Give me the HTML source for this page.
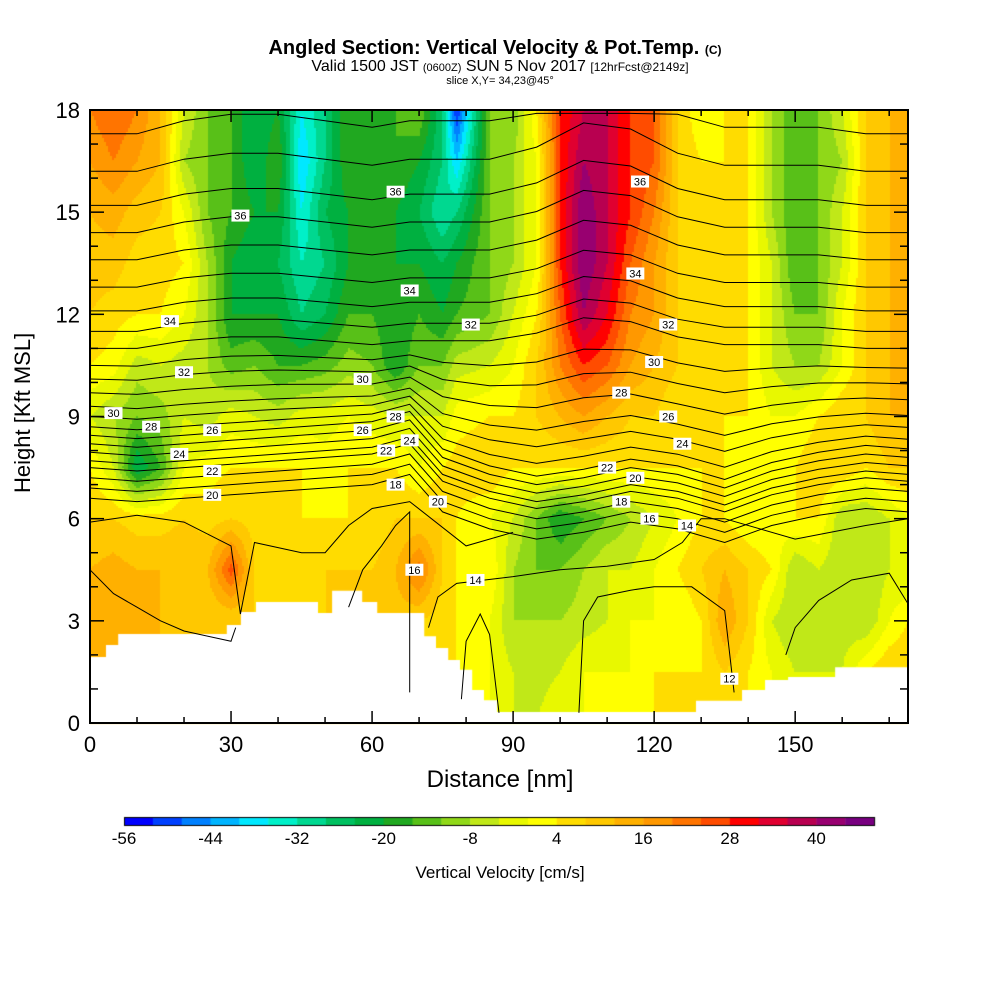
<!DOCTYPE html>
<html><head><meta charset="utf-8"><style>
body{margin:0;background:#fff;width:1000px;height:1000px;overflow:hidden;font-family:"Liberation Sans",sans-serif}
#wrap{position:relative;width:1000px;height:1000px}
.t{position:absolute;white-space:nowrap;color:#000}
canvas{position:absolute;left:0;top:0}
</style></head><body><div id="wrap">
<canvas id="c" width="1000" height="1000"></canvas>
<svg id="s" width="1000" height="1000" style="position:absolute;left:0;top:0"><defs><clipPath id="pc"><rect x="90" y="110" width="818" height="613"/></clipPath></defs></svg>
<div class="t" style="left:0;width:990px;text-align:center;top:37px;font-size:20px;font-weight:bold">Angled Section: Vertical Velocity &amp; Pot.Temp. <span style="font-size:12px">(C)</span></div>
<div class="t" style="left:0;width:1000px;text-align:center;top:58px;font-size:16px">Valid 1500 JST <span style="font-size:11px">(0600Z)</span> SUN 5 Nov 2017 <span style="font-size:12px">[12hrFcst@2149z]</span></div>
<div class="t" style="left:0;width:1000px;text-align:center;top:75px;font-size:11px">slice X,Y= 34,23@45°</div>
<div class="t" style="left:-52px;top:405px;font-size:22px;transform:rotate(-90deg);width:150px;text-align:center">Height [Kft MSL]</div>
<div class="t" style="left:0;width:1000px;text-align:center;top:766px;font-size:24px">Distance [nm]</div>
<div class="t" style="left:0;width:1000px;text-align:center;top:863px;font-size:17px">Vertical Velocity [cm/s]</div>
</div>
<script>
// ---- data ----
const xs=[0,5,10,15,20,25,30,35,40,45,50,55,60,65,70,75,78,85,90,95,100,105,110,115,120,125,130,135,140,145,150,155,160,165,170,174];
const ys=[18,16.5,15,13.5,12,10.5,9,7.5,6,4.5,3,1.5,0];
const w=[
[20,16,12,10,8,4,-4,4,8,12,12,12,12],
[24,20,14,10,6,2,-8,-4,8,14,12,12,12],
[20,16,10,6,4,-6,-12,-24,6,12,12,12,12],
[12,12,8,6,4,-4,-10,-16,6,12,12,12,12],
[-4,-8,0,4,0,-6,-4,0,8,12,8,8,8],
[-12,-12,-12,-8,-8,-8,-6,2,6,12,8,8,8],
[-16,-16,-16,-20,-20,-14,-2,4,8,26,8,8,8],
[-24,-24,-20,-24,-20,-12,-4,4,6,8,8,8,8],
[-20,-16,-20,-24,-20,-16,-6,4,6,6,8,8,8],
[-36,-40,-36,-32,-28,-16,-2,4,4,4,8,8,8],
[-28,-28,-24,-28,-24,-14,-2,2,4,8,8,8,8],
[-16,-16,-20,-20,-16,-10,0,4,4,8,10,10,10],
[-20,-20,-20,-20,-16,-12,-2,4,4,8,10,10,10],
[-16,-16,-20,-20,-20,-20,-4,4,8,12,10,10,10],
[-12,-20,-24,-20,-16,-12,-4,0,8,22,8,8,8],
[-28,-28,-32,-24,-20,-12,-4,4,8,8,6,6,6],
[-52,-40,-28,-20,-16,-6,2,6,4,4,4,4,4],
[-12,-12,-12,-12,-12,-4,4,8,0,4,0,0,0],
[-12,-8,-8,-8,-4,0,4,4,-4,-8,-8,-4,-4],
[4,0,0,0,4,8,8,4,-12,-12,-8,-6,-4],
[28,28,28,28,24,20,12,4,-20,-12,-8,-4,0],
[36,40,44,44,40,28,16,4,-16,-8,-6,0,0],
[36,36,36,36,32,24,12,4,-12,-4,-4,0,0],
[28,28,28,24,20,16,8,4,-8,-4,0,0,0],
[24,24,20,16,16,12,8,4,-4,0,0,4,4],
[8,8,8,8,8,8,4,4,0,4,0,4,4],
[0,4,4,4,8,4,4,4,4,8,4,4,4],
[4,4,4,4,4,4,4,4,4,12,16,8,8],
[4,4,4,4,4,4,4,0,0,8,8,4,4],
[-8,-8,-8,-4,-4,-4,0,0,0,4,-4,0,0],
[-16,-16,-16,-16,-12,-8,0,4,4,-8,-8,-4,-4],
[-12,-12,-12,-12,-12,-8,4,8,4,-4,-8,-4,-4],
[-4,-8,-4,-4,0,0,8,8,-8,-8,-6,-4,-4],
[8,8,8,8,8,8,8,4,-8,-8,-8,4,4],
[12,12,12,12,12,12,12,8,-4,-4,0,8,8],
[12,12,12,12,12,12,12,8,0,-4,4,8,8]];
const terrX=[0,3.4,3.4,6,6,29.1,29.1,32.1,32.1,35.3,35.3,48.5,48.5,51.5,51.5,57.9,57.9,61.1,61.1,71.1,71.1,73.6,73.6,76.2,76.2,78.7,78.7,81.3,81.3,83.8,83.8,86.6,86.6,128.9,128.9,138.7,138.7,143.6,143.6,148.5,148.5,158.5,158.5,174];
const terrH=[1.94,1.94,2.29,2.29,2.61,2.61,2.88,2.88,3.26,3.26,3.55,3.55,3.23,3.23,3.88,3.88,3.55,3.55,3.23,3.23,2.55,2.55,2.2,2.2,1.85,1.85,1.56,1.56,0.97,0.97,0.67,0.67,0.32,0.32,0.65,0.65,0.97,0.97,1.26,1.26,1.35,1.35,1.64,1.64];
const cbLevels=[-56,-52,-48,-44,-40,-36,-32,-28,-24,-20,-16,-12,-8,-4,0,4,8,12,16,20,24,28,32,36,40,44];
const cbColors=["#0000ff","#0040ff","#0080ff","#00b4ff","#00e8ff","#00f0c8","#00d890","#00c060","#00b040","#20a820","#58c018","#90d818","#c0e818","#e8f800","#ffff00","#ffdc00","#ffc800","#ffb000","#ff9800","#ff7400","#ff4c00","#ff0000","#e00030","#b80050","#980070","#780080"];
const cbTicks=[-56,-44,-32,-20,-8,4,16,28,40];
const xTicks=[0,30,60,90,120,150];
const yTicks=[0,3,6,9,12,15,18];
const lineX=[0,10,20,30,40,50,60,68,75,85,95,105,115,125,135,145,155,165,174];
const lineBase=[6.6,6.9,7.2,7.5,7.7,7.95,8.2,8.45,8.7,9.0,9.3,9.7,10.1,10.5,11.0,11.5,12.1,12.8,13.6,14.4,15.2,16.2,17.3];
const shapeLow=[0,-0.1,0,0.1,0.2,0.3,0.4,0.7,-0.4,-0.9,-1.2,-1.0,-0.7,-0.9,-1.3,-0.8,-0.5,-0.3,-0.4];
const shapeHigh=[0,0,0.2,0.3,0.3,0.2,0.1,0.2,0.2,0.2,0.4,0.8,0.7,0.3,0.1,0.1,0.1,0.0,0.0];
const lowLines=[
 {x:[0,10,20,30,32,35,45,50,55,60,68,80,90],h:[5.9,6.1,5.9,5.2,3.2,5.3,5.0,5.0,5.8,6.3,6.5,5.2,5.6]},
 {x:[0,5,10,15,20,30,31],h:[4.5,3.8,3.4,3.0,2.7,2.4,2.8]},
 {x:[55,58,62,65,68,68,68],h:[3.4,4.5,5.2,5.8,6.2,4.5,0.9]},
 {x:[72,74,78,90,100,110,120,126,130,135,150,165,174],h:[2.8,3.7,4.1,4.3,4.5,4.6,4.8,5.3,6.0,6.0,5.4,5.8,6.0]},
 {x:[79,80,83,85,87],h:[0.7,2.4,3.2,2.6,0.3]},
 {x:[104,105,108,115,120,128,135,137],h:[0.3,3.0,3.7,3.9,4.0,4.0,3.3,0.9]},
 {x:[148,150,155,162,170,174],h:[2.0,2.8,3.6,4.2,4.4,3.5]}];
const labels=[[5,9.1,"30"],[13,8.7,"28"],[26,8.6,"26"],[19,7.9,"24"],[26,7.4,"22"],[26,6.7,"20"],[17,11.8,"34"],[20,10.3,"32"],[32,14.9,"36"],[58,10.1,"30"],[65,9.0,"28"],[58,8.6,"26"],[63,8.0,"22"],[68,8.3,"24"],[65,7.0,"18"],[74,6.5,"20"],[69,4.5,"16"],[82,4.2,"14"],[65,15.6,"36"],[68,12.7,"34"],[81,11.7,"32"],[117,15.9,"36"],[116,13.2,"34"],[123,11.7,"32"],[120,10.6,"30"],[113,9.7,"28"],[123,9.0,"26"],[126,8.2,"24"],[110,7.5,"22"],[116,7.2,"20"],[113,6.5,"18"],[119,6.0,"16"],[127,5.8,"14"],[136,1.3,"12"]];
// ---- axes ----
const X0=90,X1=908,Y0=723,Y1=110,XMAX=174;
const sx=v=>X0+(v/XMAX)*(X1-X0);
const sy=v=>Y0-(v/18)*(Y0-Y1);
function interp(arr,v){let i=0;while(i<arr.length-2&&v>arr[i+1])i++;return [i,(v-arr[i])/(arr[i+1]-arr[i])];}
function colorFor(v){let k=Math.floor((v+56)/4);k=Math.max(0,Math.min(cbColors.length-1,k));return cbColors[k];}
const cv=document.getElementById('c'),ctx=cv.getContext('2d');
const step=2;
for(let px=X0;px<X1;px+=step){const xv=(px+1-X0)/(X1-X0)*XMAX;const[i,fx]=interp(xs,xv);
 for(let py=Y1;py<Y0;py+=step){const yv=18-(py+1-Y1)/(Y0-Y1)*18;
  let j=0;while(j<ys.length-2&&yv<ys[j+1])j++;const fy=(ys[j]-yv)/(ys[j]-ys[j+1]);
  const a=w[i][j]*(1-fy)+w[i][j+1]*fy,b=w[i+1][j]*(1-fy)+w[i+1][j+1]*fy;
  ctx.fillStyle=colorFor(a*(1-fx)+b*fx);ctx.fillRect(px,py,step,step);}}
// terrain
ctx.fillStyle="#fff";ctx.beginPath();ctx.moveTo(sx(0),sy(0));
for(let k=0;k<terrX.length;k++)ctx.lineTo(sx(terrX[k]),sy(terrH[k]));
ctx.lineTo(sx(174),sy(0));ctx.closePath();ctx.fill();
// colorbar
const cbL=124,cbW=28.85;
cbLevels.forEach((l,k)=>{ctx.fillStyle=cbColors[k];ctx.fillRect(cbL+k*cbW,817,cbW+0.5,8);});
ctx.strokeStyle="#000";ctx.lineWidth=1;ctx.strokeRect(cbL+0.5,817.5,cbW*26,8);
// svg overlay
const NS="http://www.w3.org/2000/svg",S=document.getElementById('s');
function mk(t,at,p){const e=document.createElementNS(NS,t);for(const k in at)e.setAttribute(k,at[k]);(p||S).appendChild(e);return e;}
const gl=mk('g',{fill:'none',stroke:'#000','stroke-width':1,'clip-path':'url(#pc)'});


lineBase.forEach((b,li)=>{const wt=Math.max(0,Math.min(1,(b-8.5)/2.5));
 const pts=lineX.map((x,k)=>sx(x).toFixed(1)+","+sy(Math.min(17.9,b+shapeLow[k]*(1-wt)+shapeHigh[k]*wt*(1+(b-10)/8))).toFixed(1)).join(" ");
 const p=mk('polyline',{points:pts},gl);
 
 });
lowLines.forEach(L=>{const p=mk('polyline',{points:L.x.map((x,k)=>sx(x).toFixed(1)+","+sy(L.h[k]).toFixed(1)).join(" ")},gl);
 
 });
labels.forEach(l=>{const g=mk('g',{});
 
 
 mk('rect',{x:sx(l[0])-9,y:sy(l[1])-6,width:18,height:12,fill:'#fff'},g);
 mk('text',{x:sx(l[0]),y:sy(l[1])+4,'font-size':11,'text-anchor':'middle','font-family':'Liberation Sans, sans-serif'},g).textContent=l[2];});
// frame and ticks
const fr=mk('rect',{x:X0,y:Y1,width:X1-X0,height:Y0-Y1,fill:'none',stroke:'#000','stroke-width':2});


for(let v=0;v<=170;v+=10){const L=v%30===0?12:6;
 mk('line',{x1:sx(v),x2:sx(v),y1:Y0,y2:Y0-L,stroke:'#000','stroke-width':1.5});
 mk('line',{x1:sx(v),x2:sx(v),y1:Y1,y2:Y1+L,stroke:'#000','stroke-width':1.5});}
for(let v=0;v<=18;v+=1){const L=v%3===0?14:8;
 mk('line',{x1:X0,x2:X0+L,y1:sy(v),y2:sy(v),stroke:'#000','stroke-width':1.5});
 mk('line',{x1:X1,x2:X1-L,y1:sy(v),y2:sy(v),stroke:'#000','stroke-width':1.5});}
xTicks.forEach(v=>{const t=mk('text',{x:sx(v),y:752,'font-size':22,'text-anchor':'middle','font-family':'Liberation Sans, sans-serif'});t.textContent=v;
 
 });
yTicks.forEach(v=>{const t=mk('text',{x:80,y:sy(v)+8,'font-size':22,'text-anchor':'end','font-family':'Liberation Sans, sans-serif'});t.textContent=v;
 
 });
cbTicks.forEach(v=>{const t=mk('text',{x:cbL+(v+56)/4*cbW,y:844,'font-size':17,'text-anchor':'middle','font-family':'Liberation Sans, sans-serif'});t.textContent=v;
 
 });
</script></body></html>
